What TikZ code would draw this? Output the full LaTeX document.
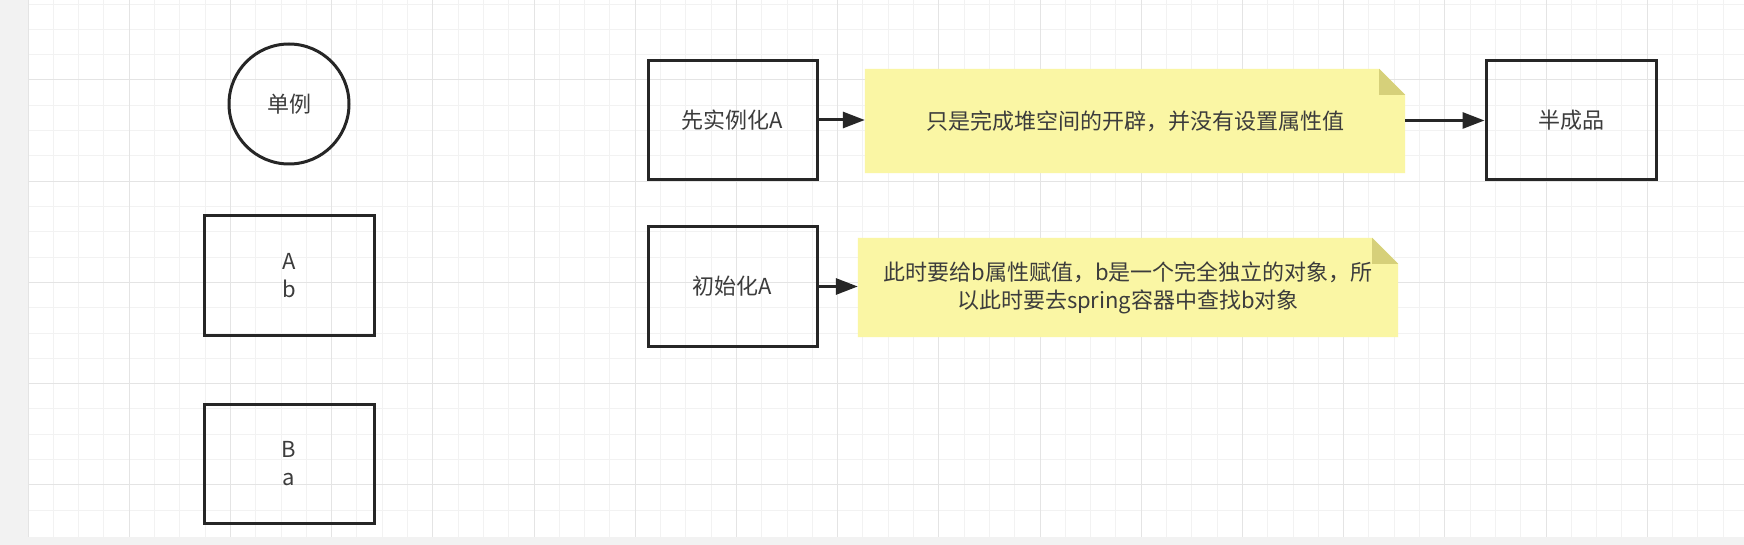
\documentclass[tikz,border=0pt]{standalone}
\usepackage{fontspec}
\setmainfont{Noto Sans CJK SC}
\usepackage{xcolor}
\usepackage{tikz}
\usetikzlibrary{shapes,arrows.meta,positioning,backgrounds}

\definecolor{notefill}{RGB}{250,246,164}
\definecolor{notefold}{RGB}{214,208,122}
\definecolor{gridminor}{RGB}{242,242,242}
\definecolor{gridmajor}{RGB}{228,228,228}
\definecolor{edgegray}{RGB}{242,242,242}
\definecolor{textgray}{RGB}{60,60,60}
\pgfdeclarelayer{canvas}
\pgfsetlayers{canvas,background,main}

\tikzset{
    objbox/.style={draw=black!85, line width=3pt, minimum width=170pt, minimum height=119pt,
        inner sep=0pt, align=center, text=textgray, font=\fontsize{22}{28}\selectfont},
    beanround/.style={objbox, circle, minimum size=120pt},
    memo/.style={minimum width=540pt, inner sep=0pt, align=center, text=textgray,
        font=\fontsize{22}{28}\selectfont},
    flow/.style={draw=black!85, line width=3pt, -{Triangle[length=22pt,width=16pt]}}
}

\begin{document}
\begin{tikzpicture}[x=1pt,y=-1pt]
        \useasboundingbox (0,0) rectangle (1744,545);
        \begin{pgfonlayer}{canvas}
            \fill[white] (0,0) rectangle (1744,545);
            \foreach \k in {0,...,67} {
                \draw[gridminor, line width=1pt] (28+25.3*\k,0) -- (28+25.3*\k,537);
            }
            \foreach \k in {1,...,21} {
                \draw[gridminor, line width=1pt] (28,-21.2+25.3*\k) -- (1744,-21.2+25.3*\k);
            }
            \foreach \k in {0,...,16} {
                \draw[gridmajor, line width=1pt] (28+101.2*\k,0) -- (28+101.2*\k,537);
            }
            \foreach \k in {0,...,4} {
                \draw[gridmajor, line width=1pt] (28,80+101.2*\k) -- (1744,80+101.2*\k);
            }
            \fill[edgegray] (0,0) rectangle (28,545);
            \fill[edgegray] (0,537) rectangle (1744,545);
        \end{pgfonlayer}

        % left column
        \node[beanround] (single) at (289,104) {单例};
        \node[objbox] (beanA) at (289,275.5) {A\\b};
        \node[objbox] (beanB) at (289,463.5) {B\\a};

        % creation steps
        \node[objbox, minimum width=169pt] (newA) at (732.5,120) {先实例化A};
        \node[memo, minimum height=104pt] (note1) at (1135,121) {只是完成堆空间的开辟，并没有设置属性值};
        \node[objbox] (half) at (1571,120.5) {半成品};
        \node[objbox, minimum width=169pt] (initA) at (732.5,286.5) {初始化A};
        \node[memo, minimum height=99pt] (note2) at (1128,287.5) {此时要给b属性赋值，b是一个完全独立的对象，所\\以此时要去spring容器中查找b对象};

        \begin{scope}[on background layer]
            \foreach \n in {note1,note2} {
                \fill[notefill] (\n.south west) -- (\n.north west) -- ([xshift=-26pt]\n.north east)
                    -- ([yshift=-26pt]\n.north east) -- (\n.south east) -- cycle;
                \fill[notefold] ([xshift=-26pt]\n.north east) -- ([xshift=-26pt,yshift=-26pt]\n.north east)
                    -- ([yshift=-26pt]\n.north east) -- cycle;
            }
        \end{scope}

        \draw[flow] (newA.east) -- (newA.east -| note1.west);
        \draw[flow] (half.west -| note1.east) -- (half.west);
        \draw[flow] (initA.east) -- (initA.east -| note2.west);
    \end{tikzpicture}
\end{document}
